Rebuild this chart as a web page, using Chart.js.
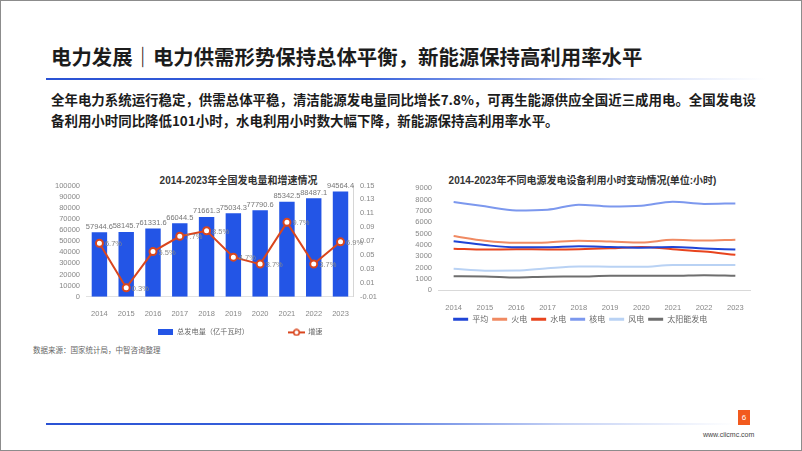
<!DOCTYPE html>
<html>
<head>
<meta charset="utf-8">
<script src="https://cdn.jsdelivr.net/npm/chart.js@4.4.1/dist/chart.umd.min.js"></script>
<style>
  body { margin: 0; background: #fff; }
  #page {
    position: relative; width: 800px; height: 449px; overflow: hidden;
    border: 1px solid #8c8c8c; background: #fff;
    font-family: 'Liberation Sans', 'Noto Sans CJK SC', sans-serif;
  }
  .abs { position: absolute; white-space: nowrap; }
  #mainTitle { left: 50px; top: 40px; font: bold 20.4px/30px 'Noto Sans CJK SC', sans-serif; color: #1c1c1c; }
  #titleLine { left: 45px; top: 77px; width: 720px; height: 2px;
    background: linear-gradient(to right, #2a52d4 0%, #3a63dc 45%, rgba(120,150,235,0.35) 80%, rgba(255,255,255,0) 100%); }
  #summary { left: 50px; top: 88px; font: bold 13.45px/21px 'Noto Sans CJK SC', sans-serif; color: #1c1c1c; }
  .chartTitle { top: 173px; font: bold 10px/14px 'Liberation Sans', 'Noto Sans CJK SC', sans-serif; color: #333; text-align: center; }
  #source { left: 32px; top: 344px; font: 7.5px/10px 'Noto Sans CJK SC', sans-serif; color: #666; }
  #footLine { left: 45px; top: 422px; width: 690px; height: 2px;
    background: linear-gradient(to right, #2a52d4 0%, #3a63dc 40%, rgba(140,165,235,0.5) 75%, rgba(255,255,255,0) 100%); }
  #pageNo { left: 737px; top: 409px; width: 12px; height: 15px; background: #f25a1e; color: #fff;
    font: 8px/15px 'Liberation Sans', sans-serif; text-align: center; }
  #url { left: 702px; top: 429px; font: 7px/10px 'Liberation Sans', sans-serif; color: #444; }
  canvas { position: absolute; }
</style>
</head>
<body>
<div id="page">
  <div class="abs" id="mainTitle">电力发展｜电力供需形势保持总体平衡，新能源保持高利用率水平</div>
  <div class="abs" id="titleLine"></div>
  <div class="abs" id="summary">全年电力系统运行稳定，供需总体平稳，清洁能源发电量同比增长7.8%，可再生能源供应全国近三成用电。全国发电设<br>备利用小时同比降低101小时，水电利用小时数大幅下降，新能源保持高利用率水平。</div>

  <div class="abs chartTitle" style="left:0;width:475px;">2014-2023年全国发电量和增速情况</div>
  <div class="abs chartTitle" style="left:400px;width:363px;">2014-2023年不同电源发电设备利用小时变动情况(单位:小时)</div>

  <div class="abs" id="source">数据来源：国家统计局，中智咨询整理</div>
  <div class="abs" id="footLine"></div>
  <div class="abs" id="pageNo">6</div>
  <div class="abs" id="url">www.ciicmc.com</div>

  <canvas id="genChart" width="360" height="176" style="left:39px;top:174px;"></canvas>
  <canvas id="hoursChart" width="370" height="165" style="left:399px;top:174px;"></canvas>
</div>

<script>
// 年份
const years = ['2014', '2015', '2016', '2017', '2018', '2019', '2020', '2021', '2022', '2023'];

// 全国发电量（亿千瓦时）和增速
const totalGen = [57944.6, 58145.7, 61331.6, 66044.5, 71661.3, 75034.3, 77790.6, 85342.5, 88487.1, 94564.4];
const growthRate = [0.067, 0.003, 0.055, 0.077, 0.085, 0.047, 0.037, 0.097, 0.037, 0.069];

// 不同电源发电设备利用小时
const hoursAvg = [4318, 3988, 3785, 3790, 3880, 3825, 3758, 3817, 3687, 3592];
const hoursThermal = [4778, 4364, 4186, 4219, 4378, 4307, 4216, 4448, 4379, 4466];
const hoursHydro = [3669, 3590, 3619, 3597, 3613, 3697, 3827, 3622, 3412, 3133];
const hoursNuclear = [7787, 7403, 7042, 7108, 7543, 7394, 7453, 7802, 7616, 7661];
const hoursWind = [1900, 1728, 1742, 1948, 2095, 2082, 2073, 2232, 2221, 2225];
const hoursSolar = [1235, 1225, 1129, 1204, 1212, 1285, 1281, 1281, 1337, 1286];

Chart.defaults.font.family = "'Liberation Sans', 'Noto Sans CJK SC', sans-serif";
Chart.defaults.color = '#888';
Chart.defaults.animation = false;

const BAR_BLUE = '#2355e6';
const LINE_RED = '#d9461e';

// 图例小图标
function makeIcon(w, h, draw) {
  const c = document.createElement('canvas');
  c.width = w; c.height = h;
  draw(c.getContext('2d'));
  return c;
}
const barIcon = makeIcon(15, 6, g => { g.fillStyle = BAR_BLUE; g.fillRect(0, 0, 15, 6); });
const lineIcon = makeIcon(17, 8, g => {
  g.strokeStyle = LINE_RED; g.lineWidth = 2;
  g.beginPath(); g.moveTo(0, 4); g.lineTo(17, 4); g.stroke();
  g.fillStyle = '#fff'; g.lineWidth = 1.5;
  g.beginPath(); g.arc(8.5, 4, 2.8, 0, Math.PI * 2); g.fill(); g.stroke();
});
const blankIcon = makeIcon(1, 1, () => {});

// 数值标签
const genLabels = {
  id: 'genLabels',
  afterDatasetsDraw(chart) {
    const ctx = chart.ctx;
    ctx.save();
    ctx.font = "7.5px 'Liberation Sans', sans-serif";

    ctx.fillStyle = '#777';
    ctx.textAlign = 'center';
    ctx.textBaseline = 'bottom';
    chart.getDatasetMeta(0).data.forEach((bar, i) => {
      ctx.fillText(String(totalGen[i]), bar.x, bar.y - 2);
    });

    ctx.fillStyle = '#888';
    ctx.textAlign = 'left';
    ctx.textBaseline = 'middle';
    chart.getDatasetMeta(1).data.forEach((pt, i) => {
      ctx.fillText((growthRate[i] * 100).toFixed(1) + '%', pt.x + 5.5, pt.y + 1);
    });
    ctx.restore();
  }
};

// 图例位置微调
function legendShift(dx, dy) {
  return {
    id: 'legendShift',
    afterLayout(chart) {
      const lg = chart.legend;
      lg.left += dx; lg.right += dx;
      lg.top += dy; lg.bottom += dy;
    }
  };
}

new Chart(document.getElementById('genChart'), {
  type: 'bar',
  data: {
    labels: years,
    datasets: [
      {
        type: 'bar',
        label: '总发电量（亿千瓦时）',
        data: totalGen,
        backgroundColor: BAR_BLUE,
        yAxisID: 'y',
        categoryPercentage: 0.8,
        barPercentage: 0.72,
        order: 2
      },
      {
        type: 'line',
        label: '增速',
        data: growthRate,
        borderColor: LINE_RED,
        borderWidth: 2,
        pointRadius: 3.5,
        pointBackgroundColor: '#fff',
        pointBorderColor: LINE_RED,
        pointBorderWidth: 2,
        tension: 0,
        yAxisID: 'y1',
        order: 1
      }
    ]
  },
  options: {
    responsive: false,
    layout: { padding: { left: 9, right: 17, top: 4.8, bottom: 0 } },
    plugins: {
      tooltip: { enabled: false },
      legend: {
        position: 'bottom',
        labels: {
          usePointStyle: true,
          pointStyleWidth: 16,
          padding: 10,
          color: '#666',
          font: { size: 7.2 },
          generateLabels(chart) {
            const items = Chart.defaults.plugins.legend.labels.generateLabels(chart);
            const barItem = items.find(it => it.datasetIndex === 0);
            const lineItem = items.find(it => it.datasetIndex === 1);
            barItem.pointStyle = barIcon;
            lineItem.pointStyle = lineIcon;
            const spacer = { text: '', pointStyle: blankIcon, fillStyle: 'rgba(0,0,0,0)',
              strokeStyle: 'rgba(0,0,0,0)', lineWidth: 0, hidden: false, datasetIndex: -1 };
            return [barItem, spacer, lineItem];
          }
        },
        onClick() {}
      }
    },
    scales: {
      x: {
        grid: { display: false },
        border: { display: true, color: '#e2e2e2' },
        ticks: { color: '#888', font: { size: 7.5 }, padding: 5 }
      },
      y: {
        position: 'left',
        min: 0, max: 100000,
        grid: { display: false, drawTicks: false },
        border: { display: false },
        ticks: { stepSize: 10000, autoSkip: false, color: '#888', font: { size: 7.5 }, padding: 6,
          callback: v => String(v) }
      },
      y1: {
        position: 'right',
        min: -0.01, max: 0.15,
        grid: { display: false, drawTicks: false },
        border: { display: true, color: '#d6d6d6' },
        ticks: { stepSize: 0.02, autoSkip: false, color: '#888', font: { size: 7.5 }, padding: 6,
          callback: v => v.toFixed(2) }
      }
    }
  },
  plugins: [genLabels, legendShift(24, -5)]
});

const seriesColors = ['#1f45d6', '#f08a62', '#e8441e', '#7c98ee', '#b9d2f4', '#6e6e6e'];
const seriesNames = ['平均', '火电', '水电', '核电', '风电', '太阳能发电'];
const seriesData = [hoursAvg, hoursThermal, hoursHydro, hoursNuclear, hoursWind, hoursSolar];

new Chart(document.getElementById('hoursChart'), {
  type: 'line',
  data: {
    labels: years,
    datasets: seriesNames.map((name, i) => ({
      label: name,
      data: seriesData[i],
      borderColor: seriesColors[i],
      backgroundColor: seriesColors[i],
      borderWidth: 2,
      pointRadius: 0,
      tension: 0.4,
      cubicInterpolationMode: 'monotone'
    }))
  },
  options: {
    responsive: false,
    layout: { padding: { left: 9.3, right: 19, top: 13.2, bottom: 0.7 } },
    plugins: {
      tooltip: { enabled: false },
      legend: {
        position: 'bottom',
        labels: {
          boxWidth: 15,
          boxHeight: 3,
          padding: 4,
          color: '#666',
          font: { size: 8 },
          generateLabels(chart) {
            return Chart.defaults.plugins.legend.labels.generateLabels(chart)
              .map(item => Object.assign(item, { lineWidth: 0 }));
          }
        },
        onClick() {}
      }
    },
    scales: {
      x: {
        offset: true,
        grid: { display: false },
        border: { display: false },
        ticks: { color: '#888', font: { size: 7.5 }, padding: 5 }
      },
      y: {
        min: 0, max: 9000,
        grid: {
          drawTicks: false,
          color: c => (c.tick && c.tick.value === 0 ? '#d9d9d9' : 'rgba(0,0,0,0)')
        },
        border: { display: false },
        ticks: { stepSize: 1000, autoSkip: false, color: '#888', font: { size: 7.5 }, padding: 6,
          callback: v => String(v) }
      }
    }
  },
  plugins: [legendShift(0, -6)]
});
</script>
</body>
</html>
